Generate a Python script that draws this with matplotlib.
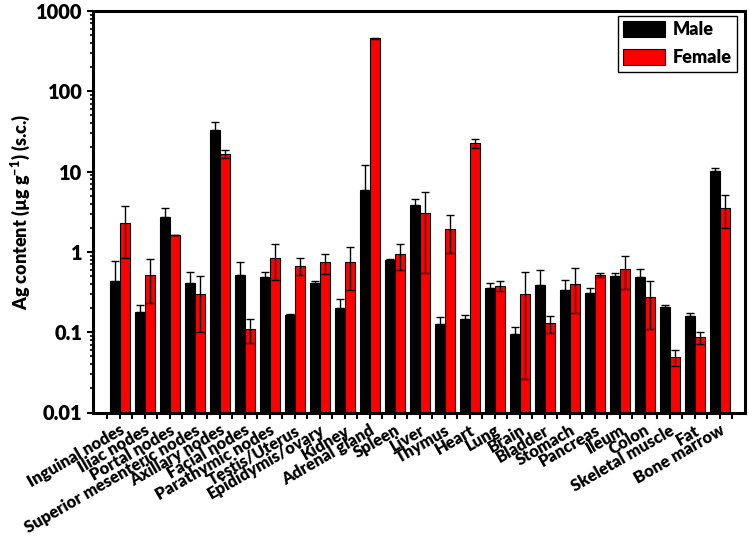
import numpy as np
import matplotlib
matplotlib.use("Agg")
import matplotlib.pyplot as plt
import matplotlib.ticker as mticker
import matplotlib.transforms as mtransforms

plt.rcParams["font.family"] = ["Lato", "DejaVu Sans"]
plt.rcParams["font.weight"] = "heavy"
plt.rcParams["mathtext.fontset"] = "custom"
plt.rcParams["mathtext.rm"] = "Lato:heavy"
plt.rcParams["mathtext.bf"] = "Lato:heavy"
plt.rcParams["mathtext.default"] = "bf"

# Data
tissues = ["Inguinal nodes", "Iliac nodes", "Portal nodes", "Superior mesenteric nodes",
           "Axillary nodes", "Facial nodes", "Parathymic nodes", "Testis/Uterus",
           "Epididymis/ovary", "Kidney", "Adrenal gland", "Spleen", "Liver", "Thymus",
           "Heart", "Lung", "Brain", "Bladder", "Stomach", "Pancreas", "Ileum", "Colon",
           "Skeletal muscle", "Fat", "Bone marrow"]
male = [0.43, 0.18, 2.72, 0.41, 32.5, 0.51, 0.49, 0.164, 0.405, 0.20, 5.84, 0.80, 3.84,
        0.126, 0.146, 0.36, 0.094, 0.39, 0.34, 0.31, 0.50, 0.49, 0.204, 0.159, 10.05]
male_err = [0.35, 0.04, 0.84, 0.15, 9.0, 0.24, 0.07, 0.005, 0.03, 0.056, 6.1, 0.02, 0.76,
            0.027, 0.02, 0.05, 0.021, 0.2, 0.11, 0.05, 0.045, 0.13, 0.012, 0.016, 1.0]
female = [2.29, 0.52, 1.64, 0.30, 16.7, 0.110, 0.85, 0.67, 0.745, 0.74, 455, 0.93, 3.05,
          1.95, 22.6, 0.378, 0.296, 0.129, 0.397, 0.514, 0.62, 0.271, 0.0488, 0.0864, 3.56]
female_err = [1.45, 0.29, 0.0, 0.2, 2.0, 0.037, 0.4, 0.16, 0.21, 0.4, 10, 0.34, 2.5,
              0.97, 3.0, 0.055, 0.27, 0.03, 0.225, 0.025, 0.27, 0.16, 0.011, 0.015, 1.6]
y_ticks = [0.01, 0.1, 1, 10, 100, 1000]
y_ticklabels = ["0.01", "0.1", "1", "10", "100", "1000"]

x = np.arange(len(tissues))
w = 0.4

fig = plt.figure(figsize=(7.49, 5.38), dpi=100)
ax = fig.add_axes([93 / 749, 1 - 412.5 / 538, 652 / 749, 401.5 / 538])

ax.bar(x - w / 2, male, w, color="black", edgecolor="black", linewidth=0.8, label="Male",
       yerr=[np.zeros(len(male)), male_err], ecolor="black",
       error_kw=dict(elinewidth=1.0, capsize=3, capthick=1.0))
ax.bar(x + w / 2, female, w, color="#ff0000", edgecolor="black", linewidth=0.8, label="Female",
       yerr=female_err, ecolor="black",
       error_kw=dict(elinewidth=1.0, capsize=3, capthick=1.0))

ax.set_yscale("log")
ax.set_ylim(0.01, 1000)
ax.set_xlim(-1.06, 25.02)
ax.yaxis.set_major_locator(mticker.FixedLocator(y_ticks))
ax.yaxis.set_major_formatter(mticker.FixedFormatter(y_ticklabels))
ax.yaxis.set_minor_locator(mticker.LogLocator(base=10, subs=np.arange(2, 10)))
ax.yaxis.set_minor_formatter(mticker.NullFormatter())

ax.set_xticks(x)
ax.set_xticklabels(tissues, rotation=30, ha="right", va="top", rotation_mode="anchor",
                   fontsize=12)
ax.xaxis.set_minor_locator(mticker.FixedLocator(np.arange(-0.5, 25.5, 1)))
shift = mtransforms.ScaledTranslation(-0.05, 0.03, fig.dpi_scale_trans)
for lab in ax.get_xticklabels():
    lab.set_transform(lab.get_transform() + shift)

ax.tick_params(axis="y", which="major", labelsize=14.4, length=4, width=1.5, direction="out")
ax.tick_params(axis="y", which="minor", length=2.5, width=1.2, direction="out")
ax.tick_params(axis="x", which="both", length=4, width=1.5, direction="out", pad=3)

for s in ax.spines.values():
    s.set_linewidth(2.2)

ax.set_ylabel("Ag content (µg g$^{-1}$) (s.c.)", fontsize=13, fontweight="heavy")
ax.yaxis.set_label_coords(-0.094, 0.5)

leg = ax.legend(loc="upper right", bbox_to_anchor=(0.9877, 0.9875), borderaxespad=0,
                fontsize=13, fancybox=False, edgecolor="black", framealpha=1,
                handlelength=2.33, handleheight=0.94, labelspacing=0.6,
                borderpad=0.3, handletextpad=0.4)
leg.get_frame().set_linewidth(1.0)

plt.savefig("out.png", dpi=100)
